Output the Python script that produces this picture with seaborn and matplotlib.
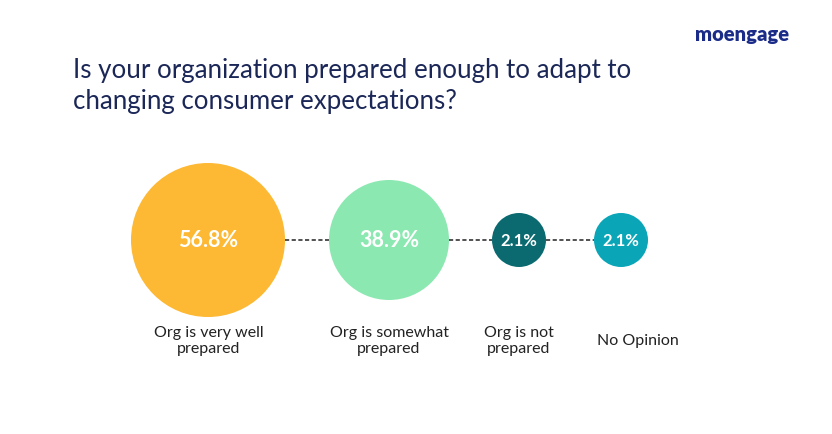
import matplotlib
matplotlib.use("Agg")
import matplotlib.pyplot as plt
import seaborn as sns
import pandas as pd

# ---- data ----
categories = ["Org is very well\nprepared", "Org is somewhat\nprepared", "Org is not\nprepared", "No Opinion"]
values = [56.8, 38.9, 2.1, 2.1]
value_labels = ["56.8%", "38.9%", "2.1%", "2.1%"]
title = "Is your organization prepared enough to adapt to\nchanging consumer expectations?"
brand = "moengage"

# ---- layout / style ----
colors = ["#FDB834", "#8BE8B1", "#0B6A70", "#0AA6B8"]
x_pos = [208, 389, 519, 621]
diam_px = [154, 120, 54, 54]
label_x = [209, 389, 519, 638]
y_center = 241
DPI = 100
W, H = 832, 435

sns.set_theme(style="white")
plt.rcParams["font.family"] = ["Lato", "DejaVu Sans"]

fig = plt.figure(figsize=(W / DPI, H / DPI), dpi=DPI)
ax = fig.add_axes([0, 0, 1, 1])
ax.set_xlim(0, W)
ax.set_ylim(H, 0)
ax.axis("off")

df = pd.DataFrame({"cat": categories, "value": values, "x": x_pos, "y": [y_center] * 4})
px2pt = 72 / DPI
sizes = {c: (d * px2pt) ** 2 for c, d in zip(categories, diam_px)}

# dashed connectors
for i in range(len(categories) - 1):
    x0 = x_pos[i] + diam_px[i] / 2
    x1 = x_pos[i + 1] - diam_px[i + 1] / 2
    ax.plot([x0, x1], [y_center, y_center], color="#333333", lw=1.2,
            dashes=(2.5, 1.5), zorder=1)

sns.scatterplot(data=df, x="x", y="y", hue="cat", size="cat",
                palette=dict(zip(categories, colors)), sizes=sizes,
                legend=False, linewidth=0, ax=ax, zorder=2)

for i, (lab, v) in enumerate(zip(value_labels, values)):
    fs = 15.5 if diam_px[i] > 100 else 12
    ax.text(x_pos[i], y_center, lab, ha="center", va="center", color="white",
            fontsize=fs, fontweight="bold", zorder=3)

for i, c in enumerate(categories):
    ax.text(label_x[i], 341, c, ha="center", va="center", color="#222222",
            fontsize=11.5, linespacing=1.25)

ax.text(73, 86, title, ha="left", va="center", color="#1B2757",
        fontsize=18.6, linespacing=1.3)
ax.text(742, 35, brand, ha="center", va="center", color="#1A2B88",
        fontsize=14.5, fontweight="heavy")

fig.savefig("out.png", dpi=DPI)
